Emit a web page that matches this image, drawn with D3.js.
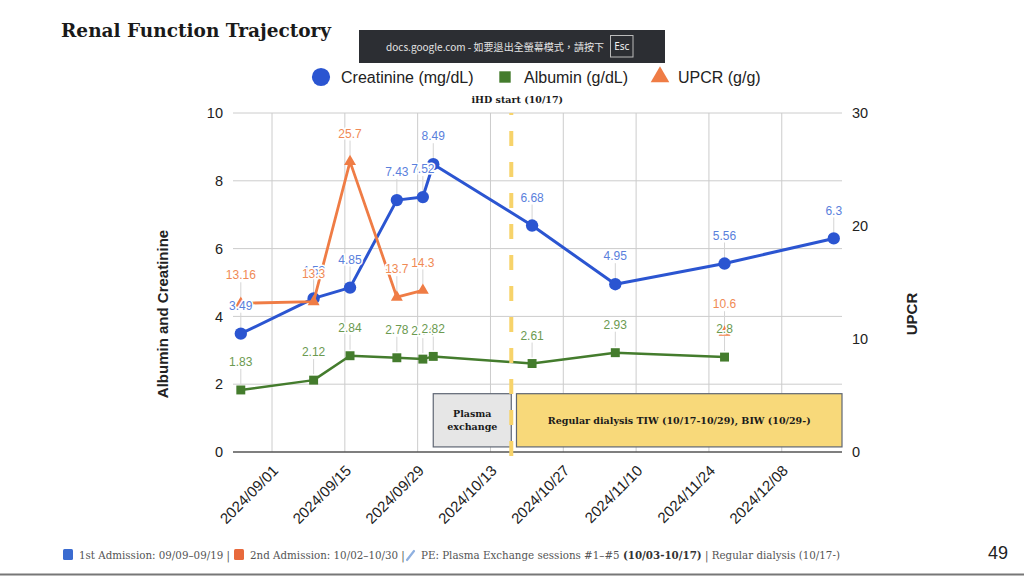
<!DOCTYPE html>
<html>
<head>
<meta charset="utf-8">
<script src="https://cdn.jsdelivr.net/npm/d3@7"></script>
<style>
  body { margin: 0; background: #fff; }
  svg { display: block; }
</style>
</head>
<body>
<div id="chart"></div>
<script>
const width = 1024;
const height = 576;

const dates = ["2024-08-26", "2024-09-09", "2024-09-16", "2024-09-25", "2024-09-30",
               "2024-10-02", "2024-10-21", "2024-11-06", "2024-11-27", "2024-12-18"];
const creatinine = [3.49, 4.53, 4.85, 7.43, 7.52, 8.49, 6.68, 4.95, 5.56, 6.3];
const albumin = [1.83, 2.12, 2.84, 2.78, 2.74, 2.82, 2.61, 2.93, 2.8, null];
const upcr = [13.16, 13.3, 25.7, 13.7, 14.3, null, null, null, 10.6, null];

const leftTicks = [0, 2, 4, 6, 8, 10];
const rightTicks = [0, 10, 20, 30];
const xTicks = ["2024-09-01", "2024-09-15", "2024-09-29", "2024-10-13",
                "2024-10-27", "2024-11-10", "2024-11-24", "2024-12-08"];
const xDomain = ["2024-08-24 12:00", "2024-12-19 14:00"];

const ihdDate = "2024-10-17";
const phases = [
  { lines: ["Plasma", "exchange"], start: "2024-10-02", end: "2024-10-17", fill: "#e6e6e6" },
  { lines: ["Regular dialysis TIW (10/17-10/29), BIW (10/29-)"], start: "2024-10-18", end: null, fill: "#f8d97a" }
];

const footerParts = [
  { x: 79, text: "1st Admission: 09/09\u201309/19 |", swatch: "#3a6bd0" },
  { x: 250, text: "2nd Admission: 10/02\u201310/30 |", swatch: "#e8693c" }
];

const parseDay = d3.timeParse("%Y-%m-%d");
const parseTime = d3.timeParse("%Y-%m-%d %H:%M");

const plot = { left: 233, right: 842, top: 113, bottom: 452 };
const sans = "Arial, 'Liberation Sans', sans-serif";
const serif = "'DejaVu Serif', serif";

const svg = d3.select("#chart").append("svg")
  .attr("width", width)
  .attr("height", height);

const x = d3.scaleTime()
  .domain(xDomain.map(parseTime))
  .range([plot.left, plot.right]);
const yL = d3.scaleLinear().domain([0, 10]).range([plot.bottom, plot.top]);
const yR = d3.scaleLinear().domain([0, 30]).range([plot.bottom, plot.top]);

// title
svg.append("text")
  .attr("x", 61).attr("y", 37)
  .style("font-family", serif).style("font-weight", "bold")
  .style("font-size", "18.5px").style("fill", "#1a1a1a")
  .text("Renal Function Trajectory");

// gridlines
svg.append("g").selectAll("line")
  .data(xTicks.map(parseDay))
  .enter().append("line")
  .attr("x1", d => x(d)).attr("x2", d => x(d))
  .attr("y1", plot.top).attr("y2", plot.bottom)
  .style("stroke", "#cccccc").style("stroke-width", 1);

svg.append("g").selectAll("line")
  .data(leftTicks.filter(d => d > 0))
  .enter().append("line")
  .attr("x1", plot.left).attr("x2", plot.right)
  .attr("y1", d => yL(d)).attr("y2", d => yL(d))
  .style("stroke", "#cccccc").style("stroke-width", 1);

svg.append("line")
  .attr("x1", plot.left).attr("x2", plot.right)
  .attr("y1", yL(0)).attr("y2", yL(0))
  .style("stroke", "#555").style("stroke-width", 1.5);

// axes
const leftAxis = svg.append("g")
  .attr("transform", `translate(${plot.left - 10},0)`)
  .call(d3.axisLeft(yL).tickValues(leftTicks).tickSize(0).tickPadding(0));
const rightAxis = svg.append("g")
  .attr("transform", `translate(${plot.right + 10},0)`)
  .call(d3.axisRight(yR).tickValues(rightTicks).tickSize(0).tickPadding(0));
const bottomAxis = svg.append("g")
  .attr("transform", `translate(0,${plot.bottom})`)
  .call(d3.axisBottom(x).tickValues(xTicks.map(parseDay))
    .tickFormat(d3.timeFormat("%Y/%m/%d")).tickSize(0));

[leftAxis, rightAxis, bottomAxis].forEach(g => {
  g.select(".domain").remove();
  g.selectAll("text")
    .style("font-family", sans).style("font-size", "14.5px").style("fill", "#222");
});
bottomAxis.selectAll("text")
  .style("font-size", "15px")
  .attr("text-anchor", "end")
  .attr("x", 0).attr("y", 0).attr("dy", "0.35em")
  .attr("transform", "translate(3,16) rotate(-45)");

// axis titles
svg.append("text")
  .attr("transform", "translate(168,314) rotate(-90)")
  .attr("text-anchor", "middle")
  .style("font-family", sans).style("font-weight", "bold")
  .style("font-size", "15px").style("fill", "#222")
  .text("Albumin and Creatinine");
svg.append("text")
  .attr("transform", "translate(917,314) rotate(-90)")
  .attr("text-anchor", "middle")
  .style("font-family", sans).style("font-weight", "bold")
  .style("font-size", "15px").style("fill", "#222")
  .text("UPCR");

// series
const series = [
  { name: "Creatinine (mg/dL)", values: creatinine, y: yL, color: "#2b55d1", labelColor: "#5a80dc", shape: d3.symbolCircle, size: 120, lw: 3 },
  { name: "Albumin (g/dL)", values: albumin, y: yL, color: "#447c2d", labelColor: "#6b9a50", shape: d3.symbolSquare, size: 80, lw: 2.5 },
  { name: "UPCR (g/g)", values: upcr, y: yR, color: "#ef7c45", labelColor: "#f08a55", shape: d3.symbolTriangle, size: 62, lw: 2.8 }
];

series.forEach(s => {
  s.all = dates.map((d, i) => ({ date: parseDay(d), v: s.values[i] }));
  s.points = s.all.filter(p => p.v !== null);
});

// annotation stems
series.forEach(s => {
  svg.append("g").selectAll("line")
    .data(s.points)
    .enter().append("line")
    .attr("x1", p => x(p.date)).attr("x2", p => x(p.date))
    .attr("y1", p => s.y(p.v) - 6).attr("y2", p => s.y(p.v) - 21)
    .style("stroke", "#d4d4d4").style("stroke-width", 1);
});

const line = s => d3.line()
  .defined(p => p.v !== null)
  .x(p => x(p.date))
  .y(p => s.y(p.v));

series.forEach(s => {
  svg.append("path")
    .datum(s.all)
    .attr("d", line(s))
    .style("fill", "none")
    .style("stroke", s.color)
    .style("stroke-width", s.lw)
    .style("stroke-linejoin", "round");

  svg.append("g").selectAll("path")
    .data(s.points)
    .enter().append("path")
    .attr("transform", p => `translate(${x(p.date)},${s.y(p.v)})`)
    .attr("d", d3.symbol(s.shape, s.size))
    .style("fill", s.color);
});

// value labels
series.forEach(s => {
  svg.append("g").selectAll("text")
    .data(s.points)
    .enter().append("text")
    .attr("x", p => x(p.date))
    .attr("y", p => s.y(p.v) - 28)
    .attr("dy", "0.35em")
    .attr("text-anchor", "middle")
    .style("font-family", sans).style("font-size", "12px")
    .style("fill", s.labelColor)
    .style("stroke", "#fff").style("stroke-width", 3)
    .style("paint-order", "stroke")
    .text(p => String(p.v));
});

// legend
const legendItems = [
  { s: series[0], mx: 321, tx: 341, big: 260 },
  { s: series[1], mx: 505, tx: 524, big: 130 },
  { s: series[2], mx: 660, tx: 678, big: 150 }
];
legendItems.forEach(item => {
  svg.append("path")
    .attr("transform", `translate(${item.mx},77)`)
    .attr("d", d3.symbol(item.s.shape, item.big))
    .style("fill", item.s.color);
  svg.append("text")
    .attr("x", item.tx).attr("y", 77).attr("dy", "0.35em")
    .style("font-family", sans).style("font-size", "16px").style("fill", "#222")
    .text(item.s.name);
});

// treatment phases
phases.forEach(ph => {
  const x0 = x(parseDay(ph.start));
  const x1 = ph.end ? x(parseDay(ph.end)) : plot.right;
  const top = yL(1.72), bottom = yL(0.15);
  svg.append("rect")
    .attr("x", x0).attr("y", top)
    .attr("width", x1 - x0).attr("height", bottom - top)
    .style("fill", ph.fill)
    .style("stroke", "#5f6673").style("stroke-width", 1.2);
  const cy = (top + bottom) / 2;
  ph.lines.forEach((t, i) => {
    svg.append("text")
      .attr("x", (x0 + x1) / 2)
      .attr("y", cy + (i - (ph.lines.length - 1) / 2) * 13.5)
      .attr("dy", "0.35em")
      .attr("text-anchor", "middle")
      .style("font-family", serif).style("font-weight", "bold")
      .style("font-size", "9.5px").style("fill", "#1a1a1a")
      .text(t);
  });
});

// iHD start marker
const ihdX = x(parseDay(ihdDate));
svg.append("line")
  .attr("x1", ihdX).attr("x2", ihdX)
  .attr("y1", plot.bottom + 4).attr("y2", plot.top)
  .style("stroke", "#f7d36a").style("stroke-width", 4)
  .style("stroke-dasharray", "15,16");
svg.append("text")
  .attr("x", ihdX + 6).attr("y", 103)
  .attr("text-anchor", "middle")
  .style("font-family", serif).style("font-weight", "bold")
  .style("font-size", "9.5px").style("fill", "#1a1a1a")
  .text("iHD start (10/17)");

// fullscreen toast
svg.append("rect")
  .attr("x", 359).attr("y", 30).attr("width", 306).attr("height", 33)
  .style("fill", "#2c2e33");
svg.append("text")
  .attr("x", 386).attr("y", 47).attr("dy", "0.35em")
  .attr("textLength", 218).attr("lengthAdjust", "spacingAndGlyphs")
  .style("font-family", "'Noto Sans CJK TC', 'Noto Sans', sans-serif")
  .style("font-size", "10px").style("fill", "#e4e4e4")
  .text("docs.google.com - 如要退出全螢幕模式，請按下");
svg.append("rect")
  .attr("x", 610.5).attr("y", 35.5).attr("width", 22.5).attr("height", 21.5)
  .style("fill", "none").style("stroke", "#bbb").style("stroke-width", 1);
svg.append("text")
  .attr("x", 621.75).attr("y", 46.5).attr("dy", "0.35em")
  .attr("text-anchor", "middle")
  .style("font-family", "'Noto Sans', sans-serif")
  .style("font-size", "10px").style("fill", "#f0f0f0")
  .text("Esc");

// footer
footerParts.forEach(f => {
  svg.append("rect")
    .attr("x", f.x - 16).attr("y", 549).attr("width", 10).attr("height", 11)
    .attr("rx", 1.5)
    .style("fill", f.swatch);
  svg.append("text")
    .attr("x", f.x).attr("y", 555).attr("dy", "0.35em")
    .style("font-family", serif).style("font-size", "10.3px").style("fill", "#555")
    .text(f.text);
});
svg.append("line")
  .attr("x1", 407).attr("y1", 560).attr("x2", 414).attr("y2", 551)
  .style("stroke", "#8fb0e0").style("stroke-width", 2.2)
  .style("stroke-linecap", "round");
const last = svg.append("text")
  .attr("x", 421).attr("y", 555).attr("dy", "0.35em")
  .style("font-family", serif).style("font-size", "10.3px").style("fill", "#555");
last.append("tspan").text("PE: Plasma Exchange sessions #1\u2013#5 ");
last.append("tspan").style("font-weight", "bold").style("fill", "#333").text("(10/03-10/17)");
last.append("tspan").text(" |  Regular dialysis (10/17-)");

svg.append("text")
  .attr("x", 988).attr("y", 553).attr("dy", "0.35em")
  .style("font-family", sans).style("font-size", "18px").style("fill", "#222")
  .text("49");

svg.append("line")
  .attr("x1", 0).attr("x2", width)
  .attr("y1", 574.5).attr("y2", 574.5)
  .style("stroke", "#777").style("stroke-width", 2);
</script>
</body>
</html>
